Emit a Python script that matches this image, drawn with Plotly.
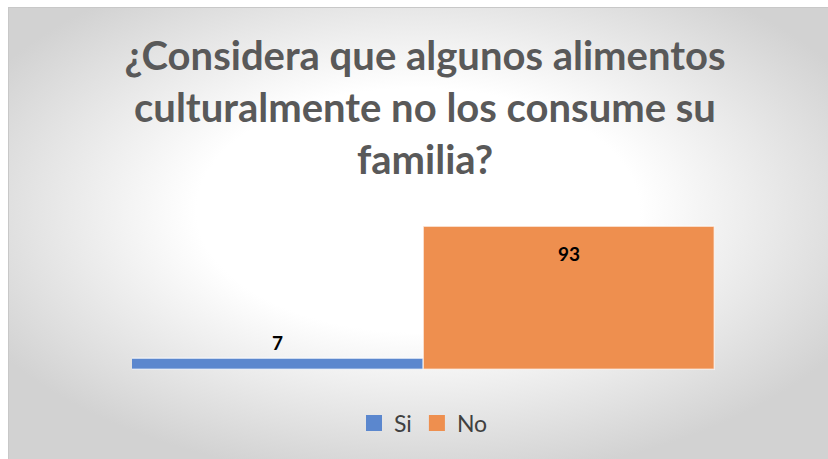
import plotly.graph_objects as go
import base64

categories = ["Si", "No"]
values = [7, 93]
colors = ["#5B87CE", "#EE8F4F"]
title_text = "¿Considera que algunos alimentos<br>culturalmente no los consume su<br>familia?"

W, H = 828, 459
ml, mr, mt, mb = 132, 113, 216, 89
pw = W - ml - mr
ph = H - mt - mb

svg = (
    '<svg xmlns="http://www.w3.org/2000/svg" width="820" height="452">'
    '<defs><radialGradient id="g" cx="50%" cy="45%" r="60%">'
    '<stop offset="0%" stop-color="#ffffff"/>'
    '<stop offset="45%" stop-color="#ffffff"/>'
    '<stop offset="100%" stop-color="#d2d2d2"/>'
    '</radialGradient></defs>'
    '<rect width="820" height="452" fill="url(#g)"/>'
    '<rect x="0.5" y="0.5" width="830" height="460" fill="none" stroke="#c8c8c8" stroke-width="1"/>'
    '</svg>'
)
src = "data:image/svg+xml;base64," + base64.b64encode(svg.encode()).decode()

fig = go.Figure()
for c, v, col in zip(categories, values, colors):
    fig.add_trace(go.Bar(
        x=[c], y=[v], name=c, showlegend=False,
        marker=dict(color=col, line=dict(color="rgba(255,255,255,0.6)", width=1.5)),
        width=1.0,
    ))
# legend entries with larger square swatches
for c, col in zip(categories, colors):
    fig.add_trace(go.Scatter(
        x=[None], y=[None], name=c, mode="markers",
        marker=dict(symbol="square", size=16, color=col),
    ))

# data labels
label_shift = [17, -27]
for c, v, s in zip(categories, values, label_shift):
    fig.add_annotation(x=c, y=v, text=f"<b>{v}</b>", showarrow=False,
                       yshift=s, font=dict(family="Lato", size=19, color="#000000"))

fig.add_layout_image(dict(
    source=src, xref="paper", yref="paper",
    x=(8 - ml) / pw, y=((H - mb) - 7) / ph,
    sizex=820 / pw, sizey=452 / ph,
    xanchor="left", yanchor="top", sizing="stretch", layer="below",
))

fig.update_layout(
    width=W, height=H,
    margin=dict(l=ml, r=mr, t=mt, b=mb),
    paper_bgcolor="white", plot_bgcolor="rgba(0,0,0,0)",
    barmode="group", bargap=0,
    title=dict(text=title_text, x=(425) / W, xanchor="center",
               y=1 - 70 / H, yanchor="top", yref="container",
               font=dict(family="Lato", size=40, color="#595959", weight="bold")),
    xaxis=dict(visible=False, range=[-0.5, 1.5]),
    yaxis=dict(visible=False, range=[0, 100]),
    legend=dict(orientation="h", x=0.5, xanchor="center", y=(H - mb - 423) / ph,
                yanchor="middle", font=dict(family="Lato", size=23, color="#404040"),
                bgcolor="rgba(0,0,0,0)", itemwidth=30),
    showlegend=True,
)

fig.write_html("out.html")
